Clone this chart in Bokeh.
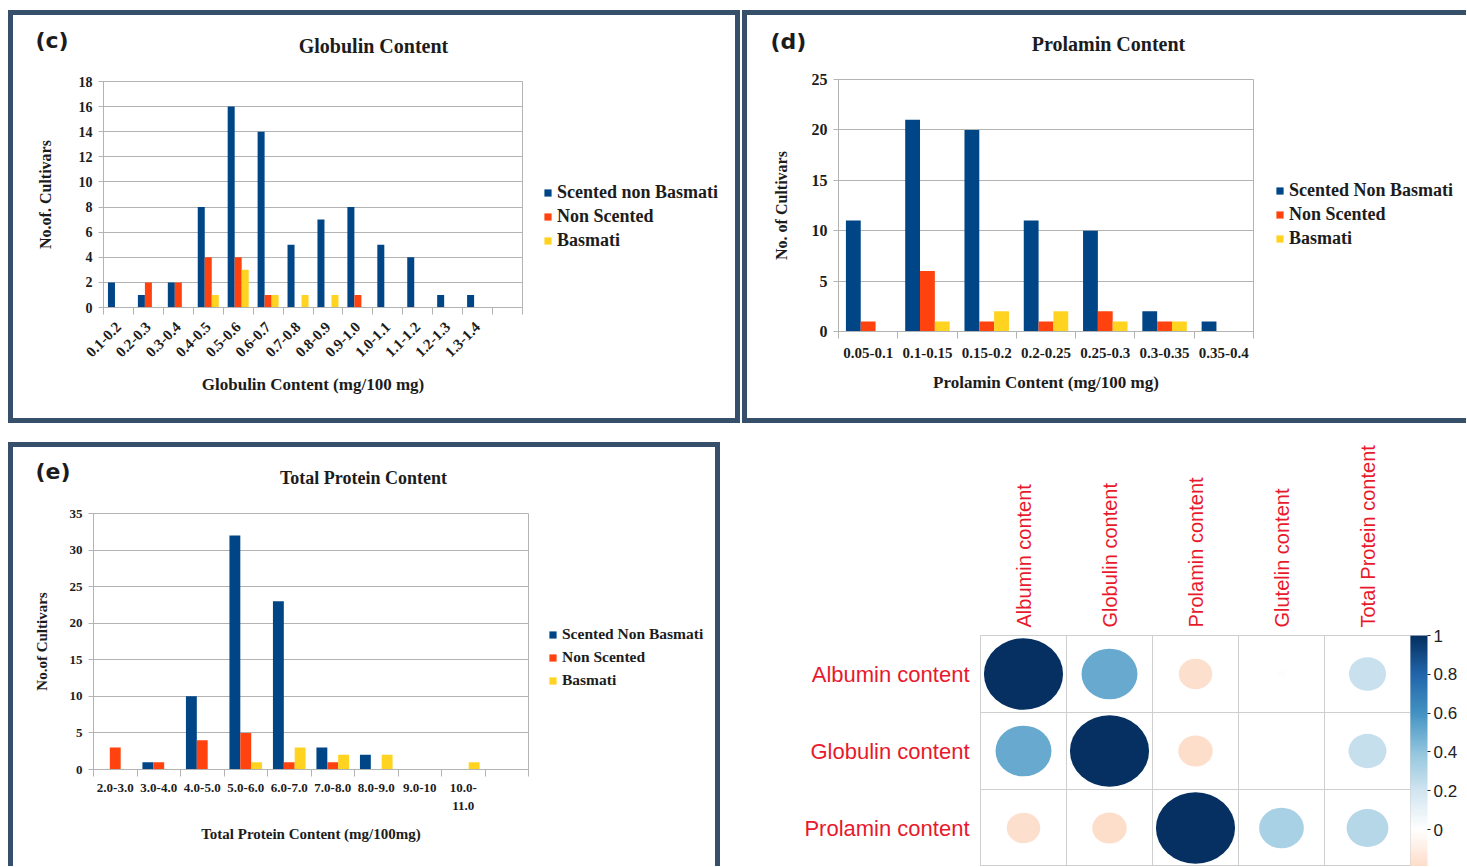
import math
from bokeh.plotting import figure
from bokeh.models import (ColumnDataSource, FixedTicker, Legend, LegendItem,
                          LinearColorMapper, ColorBar, Range1d, FactorRange)
from bokeh.transform import dodge
from bokeh.layouts import row, column
from bokeh.embed import file_html
from bokeh.resources import INLINE
from bokeh.core.properties import value

# ------------------------------------------------------------------ data
series_c = ["Scented non Basmati", "Non Scented", "Basmati"]
series_de = ["Scented Non Basmati", "Non Scented", "Basmati"]

glob_cats = ["0.1-0.2", "0.2-0.3", "0.3-0.4", "0.4-0.5", "0.5-0.6", "0.6-0.7", "0.7-0.8",
             "0.8-0.9", "0.9-1.0", "1.0-1.1", "1.1-1.2", "1.2-1.3", "1.3-1.4"]
glob_snb = [2, 1, 2, 8, 16, 14, 5, 7, 8, 5, 4, 1, 1]
glob_ns = [0, 2, 2, 4, 4, 1, 0, 0, 1, 0, 0, 0, 0]
glob_bas = [0, 0, 0, 1, 3, 1, 1, 1, 0, 0, 0, 0, 0]

prol_cats = ["0.05-0.1", "0.1-0.15", "0.15-0.2", "0.2-0.25", "0.25-0.3", "0.3-0.35", "0.35-0.4"]
prol_snb = [11, 21, 20, 11, 10, 2, 1]
prol_ns = [1, 6, 1, 1, 2, 1, 0]
prol_bas = [0, 1, 2, 2, 1, 1, 0]

tp_cats = ["2.0-3.0", "3.0-4.0", "4.0-5.0", "5.0-6.0", "6.0-7.0", "7.0-8.0", "8.0-9.0",
           "9.0-10", "10.0-\n11.0"]
tp_snb = [0, 1, 10, 32, 23, 3, 2, 0, 0]
tp_ns = [3, 1, 4, 5, 1, 1, 0, 0, 0]
tp_bas = [0, 0, 0, 1, 3, 2, 2, 0, 1]

corr_cols = ["Albumin content", "Globulin content", "Prolamin content",
             "Glutelin content", "Total Protein content"]
corr_rows = ["Albumin content", "Globulin content", "Prolamin content"]
corr_vals = [
    [1.00, 0.50, -0.18, 0.01, 0.22],
    [0.50, 1.00, -0.19, 0.00, 0.23],
    [-0.18, -0.19, 1.00, 0.32, 0.28],
]
cbar_ticks = [-0.2, 0.0, 0.2, 0.4, 0.6, 0.8, 1.0]
cbar_labels = ["-0.2", "0", "0.2", "0.4", "0.6", "0.8", "1"]

# ------------------------------------------------------------------ style
COLORS = ["#004586", "#ff420e", "#ffd320"]
GRID = "#b3b3b3"
TXT = "#1c1c1c"
SERIF = "Liberation Serif"
BORDER = "5px solid #36506b"
RED = "#e8192c"
RDBU = ["#67001F", "#B2182B", "#D6604D", "#F4A582", "#FDDBC7", "#FFFFFF",
        "#D1E5F0", "#92C5DE", "#4393C3", "#2166AC", "#053061"]
NAN = float("nan")


def interp_palette(stops, n):
    rgb = [tuple(int(s[i:i + 2], 16) for i in (1, 3, 5)) for s in stops]
    out = []
    for k in range(n):
        t = k / (n - 1) * (len(rgb) - 1)
        i = min(int(t), len(rgb) - 2)
        f = t - i
        c = [round(rgb[i][j] + (rgb[i + 1][j] - rgb[i][j]) * f) for j in range(3)]
        out.append("#%02x%02x%02x" % tuple(c))
    return out


def blank(w, h, xr, yr, styles, margin):
    p = figure(width=w, height=h, x_range=xr, y_range=yr,
               x_axis_location=None, y_axis_location=None, min_border=0, title=None,
               output_backend="svg", toolbar_location=None, outline_line_color=None,
               background_fill_color="white", border_fill_color="white",
               styles=styles, margin=margin, frame_align=False)
    p.grid.visible = False
    return p


def header(w, h, tag, tag_xy, title, title_xy, title_size, styles, margin):
    """Strip above a chart holding the panel letter and the chart title."""
    p = blank(w, h, Range1d(0, w), Range1d(h, 0), styles, margin)
    p.text(x=[tag_xy[0]], y=[tag_xy[1]], text=[tag], text_font=value("DejaVu Sans"),
           text_font_style="bold", text_font_size="22px", text_color=TXT,
           text_baseline="alphabetic", text_align="left")
    p.text(x=[title_xy[0]], y=[title_xy[1]], text=[title], text_font=value(SERIF),
           text_font_style="bold", text_font_size=title_size, text_color=TXT,
           text_baseline="alphabetic", text_align="center")
    return p


def legend_box(w, h, names, loc, size, label_h, spacing, styles, margin):
    """Strip to the right of a chart that holds its legend (swatch-only renderers)."""
    p = blank(w, h, Range1d(0, 1), Range1d(0, 1), styles, margin)
    rends = [p.vbar(x=[NAN], top=[NAN], width=0.5, fill_color=COLORS[k], line_color=None)
             for k in range(3)]
    items = [LegendItem(label=names[k], renderers=[rends[k]]) for k in range(3)]
    leg = Legend(items=items, location=loc, orientation="vertical",
                 glyph_width=9, glyph_height=9, label_standoff=5, label_height=label_h,
                 spacing=spacing, padding=0, margin=0, border_line_color=None,
                 background_fill_alpha=0, label_text_font=SERIF,
                 label_text_font_style="bold", label_text_font_size=size,
                 label_text_color=TXT)
    p.add_layout(leg)
    return p


def bar_panel(cats, vals, nslots, ymax, ystep, bar_w, w, h, fl, fr, ft, fb,
              xlabel, xlabel_size, xlabel_standoff, ylabel, ylabel_size, ylabel_standoff,
              xtick_size, xtick_angle, xtick_standoff, ytick_size, styles, margin):
    n = len(cats)
    xs = list(range(1, n + 1))
    src = ColumnDataSource(dict(x=xs, s0=vals[0], s1=vals[1], s2=vals[2]))
    x0, x1 = 0.5, nslots + 0.5
    p = figure(width=w, height=h, x_range=Range1d(x0, x1), y_range=Range1d(0, ymax),
               output_backend="svg", toolbar_location=None, title=None,
               min_border_left=fl, min_border_right=w - fr,
               min_border_top=ft, min_border_bottom=h - fb,
               background_fill_color="white", border_fill_color="white",
               outline_line_color=GRID, styles=styles, margin=margin, frame_align=False)
    for k in range(3):
        p.vbar(x=dodge("x", (k - 1) * bar_w), top="s%d" % k, bottom=0, width=bar_w,
               source=src, fill_color=COLORS[k], line_color=None)

    xa = p.xaxis[0]
    xa.ticker = FixedTicker(ticks=xs, minor_ticks=[i + 0.5 for i in range(nslots + 1)])
    xa.major_label_overrides = {i + 1: c for i, c in enumerate(cats)}
    xa.major_tick_in = 0
    xa.major_tick_out = 0
    xa.minor_tick_in = 0
    xa.minor_tick_out = 7
    xa.minor_tick_line_color = GRID
    xa.axis_line_color = GRID
    xa.major_label_orientation = xtick_angle
    xa.major_label_standoff = xtick_standoff
    xa.major_label_text_font = SERIF
    xa.major_label_text_font_style = "bold"
    xa.major_label_text_font_size = xtick_size
    xa.major_label_text_color = TXT
    xa.axis_label = xlabel
    xa.axis_label_standoff = xlabel_standoff
    xa.axis_label_text_font = SERIF
    xa.axis_label_text_font_style = "bold"
    xa.axis_label_text_font_size = xlabel_size
    xa.axis_label_text_color = TXT

    ya = p.yaxis[0]
    ya.ticker = FixedTicker(ticks=list(range(0, ymax + 1, ystep)))
    ya.minor_tick_line_color = None
    ya.major_tick_in = 0
    ya.major_tick_out = 5
    ya.major_tick_line_color = GRID
    ya.axis_line_color = GRID
    ya.major_label_standoff = 6
    ya.major_label_text_font = SERIF
    ya.major_label_text_font_style = "bold"
    ya.major_label_text_font_size = ytick_size
    ya.major_label_text_color = TXT
    ya.axis_label = ylabel
    ya.axis_label_standoff = ylabel_standoff
    ya.axis_label_text_font = SERIF
    ya.axis_label_text_font_style = "bold"
    ya.axis_label_text_font_size = ylabel_size
    ya.axis_label_text_color = TXT

    p.xgrid.visible = False
    p.ygrid.grid_line_color = GRID
    return p


# ------------------------------------------------------------------ panel (c)
hc = header(732, 50, "(c)", (22, 25), "Globulin Content", (360, 30), "20px",
            {"border-top": BORDER, "border-left": BORDER, "border-right": BORDER},
            (10, 0, 0, 8))
bc = bar_panel(glob_cats, [glob_snb, glob_ns, glob_bas], 14, 18, 2, 0.234,
               515, 363, 90, 509, 21, 247,
               "Globulin Content (mg/100 mg)", "17px", 10,
               "No.of. Cultivars", "16px", 22,
               "15px", math.pi / 4, 10, "14px",
               {"border-left": BORDER, "border-bottom": BORDER}, (0, 0, 0, 8))
lc = legend_box(217, 363, series_c, (20, 172), "18px", 20, 3,
                {"border-right": BORDER, "border-bottom": BORDER}, None)

# ------------------------------------------------------------------ panel (d)
hd = header(724, 50, "(d)", (23, 26), "Prolamin Content", (361, 28), "20px",
            {"border-top": BORDER, "border-left": BORDER}, (10, 0, 0, 2))
bd = bar_panel(prol_cats, [prol_snb, prol_ns, prol_bas], 7, 25, 5, 0.25,
               512, 363, 91, 506, 19, 271,
               "Prolamin Content (mg/100 mg)", "17px", 12,
               "No. of Cultivars", "16px", 19,
               "15px", "horizontal", 9, "16px",
               {"border-left": BORDER, "border-bottom": BORDER}, (0, 0, 0, 2))
ld = legend_box(212, 363, series_de, (21, 174), "18px", 20, 3,
                {"border-bottom": BORDER}, None)

# ------------------------------------------------------------------ panel (e)
he = header(712, 50, "(e)", (22, 24), "Total Protein Content", (350, 30), "18px",
            {"border-top": BORDER, "border-left": BORDER, "border-right": BORDER},
            (19, 0, 0, 8))
be = bar_panel(tp_cats, [tp_snb, tp_ns, tp_bas], 10, 35, 5, 0.25,
               521, 374, 80, 515, 21, 277,
               "Total Protein Content (mg/100mg)", "15px", 10,
               "No.of Cultivars", "15px", 17,
               "13px", "horizontal", 3, "13px",
               {"border-left": BORDER}, (0, 0, 0, 8))
le = legend_box(191, 374, series_de, (19, 177), "15.5px", 18, 5,
                {"border-right": BORDER}, None)

# ------------------------------------------------------------------ correlation plot
palette = interp_palette(RDBU, 200)
mapper = LinearColorMapper(palette=palette, low=-1, high=1)

cx, cy, cr, cw, ch = [], [], [], [], []
for i, rname in enumerate(corr_rows):
    for j, cname in enumerate(corr_cols):
        r = corr_vals[i][j]
        cx.append(cname)
        cy.append(rname)
        cr.append(r)
        cw.append(0.92 * math.sqrt(abs(r)))
        ch.append(0.93 * math.sqrt(abs(r)))
csrc = ColumnDataSource(dict(col=cx, row=cy, r=cr, w=cw, h=ch))

pk = figure(width=746, height=424, x_range=FactorRange(*corr_cols),
            y_range=FactorRange(*reversed(corr_rows)), x_axis_location="above",
            output_backend="svg", toolbar_location=None,
            min_border_left=260, min_border_right=56, min_border_top=193, min_border_bottom=0,
            outline_line_color="#cfcfcf", background_fill_color="white",
            border_fill_color="white", margin=(19, 0, 0, 0), frame_align=False)
pk.rect(x="col", y="row", width=1, height=1, source=csrc, fill_color=None,
        line_color="#cfcfcf", line_width=1)
pk.ellipse(x="col", y="row", width="w", height="h", source=csrc,
           fill_color={"field": "r", "transform": mapper}, line_color=None)
pk.grid.visible = False
for ax in (pk.xaxis[0], pk.yaxis[0]):
    ax.axis_line_color = None
    ax.major_tick_line_color = None
    ax.minor_tick_line_color = None
    ax.major_tick_in = 0
    ax.major_tick_out = 0
    ax.minor_tick_in = 0
    ax.minor_tick_out = 0
    ax.major_label_text_font = "Liberation Sans"
    ax.major_label_text_color = RED
pk.xaxis[0].major_label_orientation = "vertical"
pk.xaxis[0].major_label_text_font_size = "20px"
pk.xaxis[0].major_label_standoff = 8
pk.yaxis[0].major_label_text_font_size = "22px"
pk.yaxis[0].major_label_standoff = 11

cb = ColorBar(color_mapper=mapper, width=17, padding=0, margin=3,
              display_low=-0.19, display_high=1.0,
              ticker=FixedTicker(ticks=cbar_ticks),
              major_label_overrides={t: l for t, l in zip(cbar_ticks, cbar_labels)},
              major_label_text_font="Liberation Sans", major_label_text_font_size="17px",
              major_label_text_color="#222222", major_tick_in=0, major_tick_out=3,
              major_tick_line_color="#222222", minor_tick_line_color=None, label_standoff=3,
              bar_line_color=None, border_line_color=None, background_fill_alpha=0)
pk.add_layout(cb, "right")

top = row(column(hc, row(bc, lc)), column(hd, row(bd, ld)))
bottom = row(column(he, row(be, le)), pk)
layout = column(top, bottom)
open("out.html", "w").write(file_html(layout, INLINE))
